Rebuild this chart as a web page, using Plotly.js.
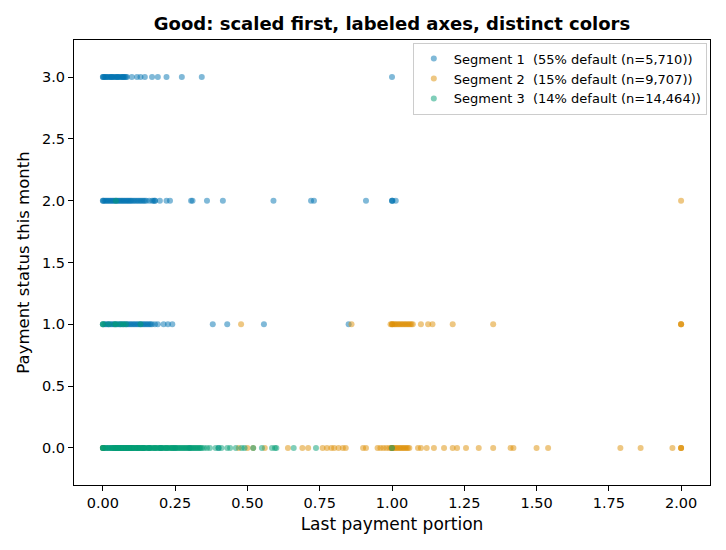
<!DOCTYPE html>
<html>
<head>
<meta charset="utf-8">
<script src="https://cdn.plot.ly/plotly-3.0.1.min.js"></script>
<style>html,body{margin:0;padding:0;background:#fff;}#chart{width:726px;height:550px;}</style>
</head>
<body>
<div id="chart"></div>
<script>
// Segment names (legend labels)
const segmentNames = [
  "Segment 1\u00a0\u00a0(55% default (n=5,710))",
  "Segment 2\u00a0\u00a0(15% default (n=9,707))",
  "Segment 3\u00a0\u00a0(14% default (n=14,464))"
];
const segmentColors = ["#0173b2", "#de8f05", "#029e73"];

// Segment 1: last payment portion values at each payment status
const seg1_status3 = [0, 0, 0.003, 0.006, 0.01, 0.012, 0.016, 0.02, 0.024, 0.028, 0.032, 0.036, 0.04, 0.044, 0.048, 0.052, 0.056, 0.06, 0.064, 0.068, 0.072, 0.076, 0.08, 0.083, 0.03, 0.05, 0.07, 0.10, 0.118, 0.13, 0.145, 0.17, 0.19, 0.22, 0.273, 0.342, 1.0];
const seg1_status2 = [0, 0, 0.004, 0.008, 0.012, 0.016, 0.02, 0.024, 0.028, 0.032, 0.036, 0.04, 0.044, 0.048, 0.052, 0.056, 0.06, 0.064, 0.068, 0.072, 0.076, 0.08, 0.084, 0.088, 0.092, 0.096, 0.10, 0.105, 0.11, 0.115, 0.12, 0.125, 0.13, 0.135, 0.14, 0.145, 0.15, 0.16, 0.17, 0.175, 0.18, 0.18, 0.197, 0.22, 0.232, 0.305, 0.31, 0.36, 0.415, 0.59, 0.72, 0.73, 0.91, 1.0, 1.0, 1.002, 1.013];
const seg1_status1 = [0, 0.005, 0.01, 0.015, 0.02, 0.025, 0.03, 0.035, 0.04, 0.045, 0.05, 0.055, 0.06, 0.065, 0.07, 0.075, 0.08, 0.085, 0.09, 0.095, 0.10, 0.105, 0.11, 0.115, 0.12, 0.125, 0.13, 0.135, 0.14, 0.145, 0.15, 0.155, 0.16, 0.165, 0.17, 0.18, 0.19, 0.21, 0.225, 0.24, 0.38, 0.43, 0.557, 0.85];
const seg1_status0 = [0, 0.01, 0.02, 0.03, 0.04, 0.05, 0.06, 0.07, 0.08, 0.09, 0.10, 0.12, 0.14, 0.16, 0.2, 0.25, 0.3, 0.4, 1.0];

// Segment 2
const seg2_status2 = [2.0];
const seg2_status1 = [0.478, 0.86, 0.995, 1.0, 1.0, 1.003, 1.008, 1.012, 1.017, 1.022, 1.027, 1.032, 1.037, 1.042, 1.047, 1.052, 1.057, 1.062, 1.067, 1.072, 1.10, 1.125, 1.14, 1.21, 1.35, 2.0, 2.0, 2.0];
const seg2_status0 = [0, 0.47, 0.50, 0.52, 0.56, 0.64, 0.69, 0.71, 0.76, 0.775, 0.79, 0.80, 0.815, 0.83, 0.84, 0.90, 0.91, 0.95, 0.96, 0.97, 0.98, 0.99, 0.997, 1.0, 1.0, 1.005, 1.01, 1.015, 1.02, 1.025, 1.03, 1.035, 1.04, 1.045, 1.05, 1.055, 1.06, 1.09, 1.10, 1.12, 1.145, 1.18, 1.21, 1.225, 1.256, 1.30, 1.35, 1.41, 1.42, 1.50, 1.54, 1.79, 1.86, 1.97, 2.0, 2.0, 2.0];

// Segment 3
const seg3_status2 = [0.045];
const seg3_status1 = [0, 0, 0.02, 0.04, 0.045, 0.06, 0.07, 0.08, 0.13];
const seg3_status0 = [0, 0, 0, 0.005, 0.01, 0.015, 0.02, 0.025, 0.03, 0.035, 0.04, 0.045, 0.05, 0.055, 0.06, 0.065, 0.07, 0.075, 0.08, 0.085, 0.09, 0.095, 0.10, 0.105, 0.11, 0.115, 0.12, 0.125, 0.13, 0.135, 0.14, 0.145, 0.15, 0.158, 0.166, 0.174, 0.182, 0.19, 0.198, 0.206, 0.214, 0.222, 0.23, 0.238, 0.246, 0.254, 0.262, 0.27, 0.278, 0.286, 0.294, 0.302, 0.31, 0.318, 0.326, 0.334, 0.342, 0.35,
  0.035, 0.045, 0.055, 0.065, 0.075, 0.085, 0.095, 0.105, 0.115, 0.125, 0.135, 0.145, 0.155, 0.162, 0.17, 0.178, 0.186, 0.194, 0.202, 0.21, 0.218, 0.226, 0.234, 0.242, 0.25, 0.258, 0.266, 0.274, 0.282, 0.29, 0.298, 0.306, 0.314, 0.322, 0.33, 0.338,
  0.04, 0.05, 0.06, 0.07, 0.08, 0.09, 0.10, 0.11, 0.12, 0.13, 0.14, 0.16, 0.18, 0.20, 0.22, 0.24,
  0.36, 0.37, 0.39, 0.40, 0.41, 0.43, 0.44, 0.46, 0.48, 0.49, 0.52, 0.55, 0.585, 0.595, 0.60, 0.66, 0.737, 1.0];

const xTickVals = [0, 0.25, 0.5, 0.75, 1.0, 1.25, 1.5, 1.75, 2.0];
const yTickVals = [0, 0.5, 1.0, 1.5, 2.0, 2.5, 3.0];

function buildTrace(rows, name, color) {
  const xs = [], ys = [];
  rows.forEach(function (row) {
    row.vals.forEach(function (v) { xs.push(v); ys.push(row.level); });
  });
  return {
    type: "scatter", mode: "markers", name: name, x: xs, y: ys,
    marker: {color: color, size: 6, opacity: 0.5, line: {width: 0}}
  };
}

const traces = [
  buildTrace([{level: 3, vals: seg1_status3}, {level: 2, vals: seg1_status2}, {level: 1, vals: seg1_status1}, {level: 0, vals: seg1_status0}], segmentNames[0], segmentColors[0]),
  buildTrace([{level: 2, vals: seg2_status2}, {level: 1, vals: seg2_status1}, {level: 0, vals: seg2_status0}], segmentNames[1], segmentColors[1]),
  buildTrace([{level: 2, vals: seg3_status2}, {level: 1, vals: seg3_status1}, {level: 0, vals: seg3_status0}], segmentNames[2], segmentColors[2])
];

const font = "DejaVu Sans, sans-serif";
const layout = {
  width: 726, height: 550,
  margin: {l: 74, r: 16, t: 40, b: 65, pad: 0},
  paper_bgcolor: "#fff", plot_bgcolor: "#fff",
  font: {family: font, size: 14, color: "#000"},
  title: {text: "<b>Good: scaled first, labeled axes, distinct colors</b>", font: {family: font, size: 18, color: "#000"},
          x: 0.5, xref: "paper", y: 1 - 24 / 550, yref: "container", yanchor: "middle"},
  xaxis: {
    range: [-0.1, 2.1], tickvals: xTickVals, tickformat: ".2f",
    ticks: "outside", ticklen: 5, tickcolor: "#000", tickwidth: 1,
    showline: true, linecolor: "#000", linewidth: 1, mirror: true,
    showgrid: false, zeroline: false,
    tickfont: {size: 14.5},
    title: {text: "Last payment portion", font: {size: 17}, standoff: 7}
  },
  yaxis: {
    range: [-0.3, 3.3], tickvals: yTickVals, tickformat: ".1f",
    ticks: "outside", ticklen: 5, tickcolor: "#000", tickwidth: 1,
    showline: true, linecolor: "#000", linewidth: 1, mirror: true,
    showgrid: false, zeroline: false,
    tickfont: {size: 14.5},
    title: {text: "Payment status this month", font: {size: 16.5}, standoff: 8}
  },
  legend: {
    x: 0.995, xanchor: "right", y: 0.994, yanchor: "top",
    bgcolor: "rgba(255,255,255,0.8)", bordercolor: "#cccccc", borderwidth: 1,
    font: {family: font, size: 13, color: "#000"}
  },
  showlegend: true
};

Plotly.newPlot("chart", traces, layout, {displayModeBar: false, staticPlot: true});
</script>
</body>
</html>
